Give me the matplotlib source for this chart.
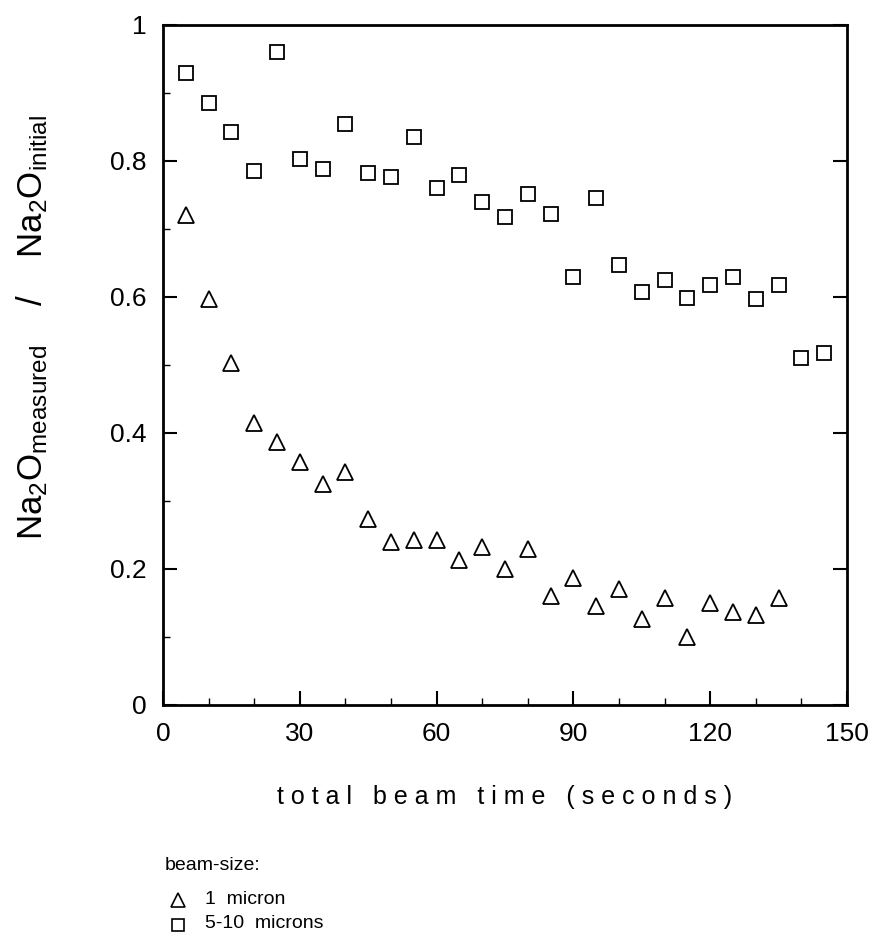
import matplotlib
matplotlib.use("Agg")
import matplotlib.pyplot as plt
from matplotlib.ticker import MultipleLocator

plt.rcParams['font.family'] = ['Liberation Sans', 'DejaVu Sans']
plt.rcParams['mathtext.fontset'] = 'custom'
plt.rcParams['mathtext.rm'] = 'Liberation Sans'
plt.rcParams['mathtext.it'] = 'Liberation Sans'

time_sq = [5, 10, 15, 20, 25, 30, 35, 40, 45, 50, 55, 60, 65, 70, 75, 80, 85,
           90, 95, 100, 105, 110, 115, 120, 125, 130, 135, 140, 145]
ratio_sq = [0.929, 0.885, 0.843, 0.785, 0.960, 0.803, 0.788, 0.855, 0.782, 0.776,
            0.835, 0.760, 0.780, 0.740, 0.717, 0.752, 0.722, 0.630, 0.745, 0.647,
            0.607, 0.625, 0.598, 0.617, 0.630, 0.597, 0.617, 0.510, 0.517]

time_tri = [5, 10, 15, 20, 25, 30, 35, 40, 45, 50, 55, 60, 65, 70, 75, 80, 85,
            90, 95, 100, 105, 110, 115, 120, 125, 130, 135]
ratio_tri = [0.720, 0.597, 0.503, 0.415, 0.387, 0.358, 0.325, 0.343, 0.273, 0.240,
             0.243, 0.242, 0.213, 0.233, 0.200, 0.230, 0.160, 0.187, 0.145, 0.170,
             0.127, 0.157, 0.100, 0.150, 0.137, 0.133, 0.157]

x_ticks = [0, 30, 60, 90, 120, 150]
y_ticks = [0, 0.2, 0.4, 0.6, 0.8, 1.0]
y_ticklabels = ['0', '0.2', '0.4', '0.6', '0.8', '1']

fig = plt.figure(figsize=(8.73, 9.36), dpi=100)
ax = fig.add_axes([163/873, 1 - 705/936, (847-163)/873, (705-25)/936])

ax.plot(time_sq, ratio_sq, linestyle='none', marker='s', markersize=10,
        markerfacecolor='white', markeredgecolor='black', markeredgewidth=1.3)
ax.plot(time_tri, ratio_tri, linestyle='none', marker='^', markersize=11,
        markerfacecolor='white', markeredgecolor='black', markeredgewidth=1.3)

ax.set_xlim(0, 150)
ax.set_ylim(0, 1)
ax.set_xticks(x_ticks)
ax.set_xticklabels([str(t) for t in x_ticks])
ax.set_yticks(y_ticks)
ax.set_yticklabels(y_ticklabels)
ax.xaxis.set_minor_locator(MultipleLocator(10))
ax.yaxis.set_minor_locator(MultipleLocator(0.1))
ax.tick_params(axis='both', which='major', direction='in', length=10, width=1.5,
               labelsize=19, pad=12)
ax.tick_params(axis='both', which='minor', direction='in', length=5, width=1.0)
ax.tick_params(axis='y', which='major', right=True)
for s in ax.spines.values():
    s.set_linewidth(2)

ax.set_xlabel('t o t a l   b e a m   t i m e   ( s e c o n d s )', fontsize=18,
              labelpad=28)

fig.text(32/873, 1 - 328/936,
         r'$\mathrm{Na_2O_{measured}}$    /    $\mathrm{Na_2O_{initial}}$',
         rotation=90, fontsize=25, ha='center', va='center')

# legend
fig.text(165/873, 1 - 866/936, 'beam-size:', fontsize=14, ha='left', va='center')
fig.lines.append(plt.Line2D([178/873], [1 - 900/936], transform=fig.transFigure,
                            marker='^', markersize=10, markerfacecolor='white',
                            markeredgecolor='black', markeredgewidth=1.2,
                            linestyle='none'))
fig.text(205/873, 1 - 899/936, '1  micron', fontsize=14, ha='left', va='center')
fig.lines.append(plt.Line2D([178/873], [1 - 925/936], transform=fig.transFigure,
                            marker='s', markersize=9, markerfacecolor='white',
                            markeredgecolor='black', markeredgewidth=1.2,
                            linestyle='none'))
fig.text(205/873, 1 - 924/936, '5-10  microns', fontsize=14, ha='left', va='center')

fig.savefig('out.png', dpi=100)
